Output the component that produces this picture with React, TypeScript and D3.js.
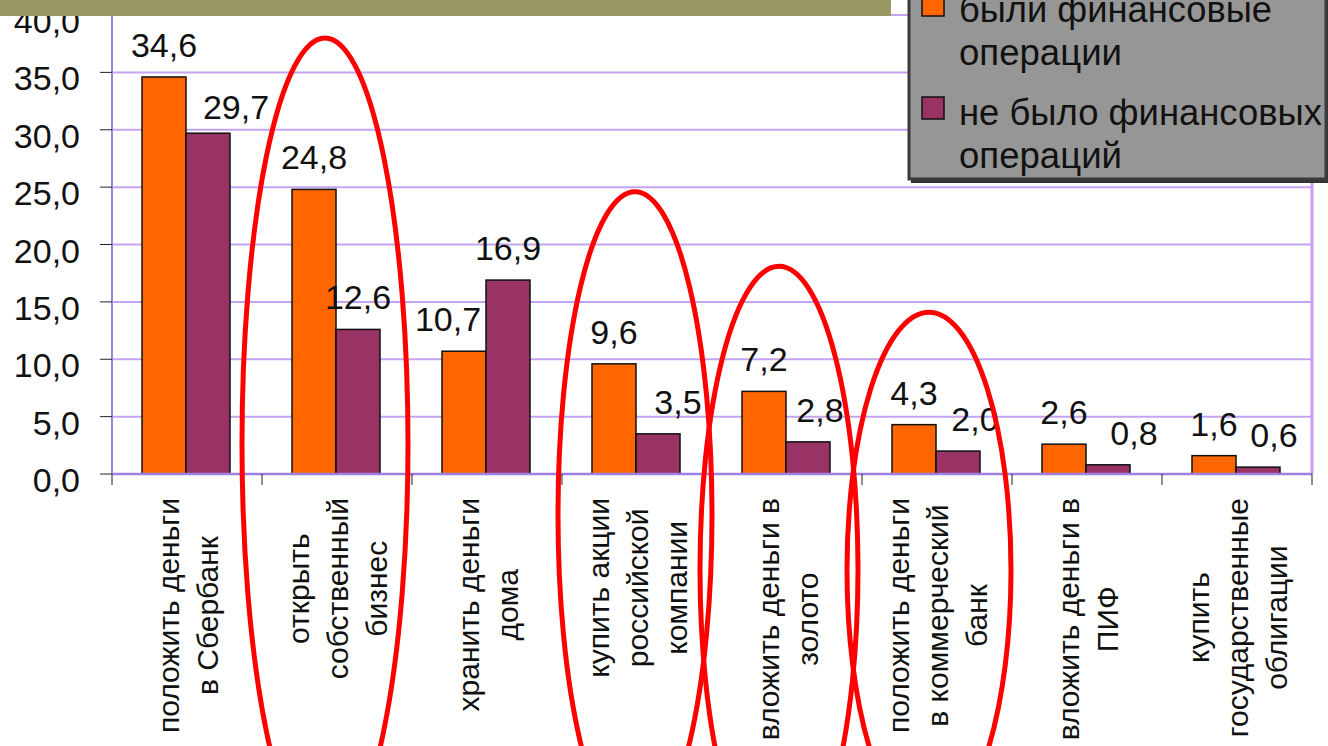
import React, { useMemo } from 'react';
import * as d3 from 'd3';

// category labels, one entry per line of the rotated label
const categoryLines: string[][] = [
  ['положить деньги', 'в Сбербанк'],
  ['открыть', 'собственный', 'бизнес'],
  ['хранить деньги', 'дома'],
  ['купить акции', 'российской', 'компании'],
  ['вложить деньги в', 'золото'],
  ['положить деньги', 'в коммерческий', 'банк'],
  ['вложить деньги в', 'ПИФ'],
  ['купить', 'государственные', 'облигации'],
];

const seriesNames = ['были финансовые операции', 'не было финансовых операций'];
const legendLines = [
  ['были финансовые', 'операции'],
  ['не было финансовых', 'операций'],
];

const withOps = [34.6, 24.8, 10.7, 9.6, 7.2, 4.3, 2.6, 1.6];
const withoutOps = [29.7, 12.6, 16.9, 3.5, 2.8, 2.0, 0.8, 0.6];

const yTicks = [0, 5, 10, 15, 20, 25, 30, 35, 40];

// manual nudges of data labels (dx, dy), as placed in the original slide
const nudgeWith = [[0, 0], [0, 0], [-16, 0], [0, 0], [0, 0], [0, 0], [0, 0], [0, 0]];
const nudgeWithout = [[28, 6], [0, 0], [0, 0], [20, 0], [12, 0], [17, 0], [26, 0], [16, 0]];

// red ovals drawn over the chart: category index, x shift, top value, radii
const highlights = [
  { cat: 1, dx: -12, top: 38.0, rx: 83, ry: 406 },
  { cat: 3, dx: -2, top: 24.6, rx: 77, ry: 323 },
  { cat: 4, dx: -8, top: 18.1, rx: 79, ry: 303 },
  { cat: 5, dx: -8, top: 14.1, rx: 82, ry: 258 },
];

const W = 1328;
const H = 746;
const colors = ['#ff6600', '#993366'];
const fmt = (v: number) => v.toFixed(1).replace('.', ',');

export default function App() {
  const margin = { top: 15, right: 16, bottom: 272, left: 112 };

  const x = d3.scaleBand<number>()
    .domain(d3.range(categoryLines.length))
    .range([margin.left, W - margin.right]);

  const inner = d3.scaleBand<number>()
    .domain([0, 1])
    .range([30, x.bandwidth() - 32]);

  const y = d3.scaleLinear()
    .domain([0, 40])
    .range([H - margin.bottom, margin.top]);

  const catFont = "30px 'Liberation Sans', Arial, sans-serif";
  const maxLens = useMemo(() => {
    const ctx = document.createElement('canvas').getContext('2d');
    if (!ctx) return categoryLines.map(() => 230);
    ctx.font = catFont;
    return categoryLines.map((lines) => d3.max(lines, (l) => ctx.measureText(l).width) || 0);
  }, []);

  const series = [withOps, withoutOps];
  const nudges = [nudgeWith, nudgeWithout];
  const y0 = y(0);

  return (
    <svg width={W} height={H} style={{ position: 'absolute', left: 0, top: 0, background: '#fff' }}
      fontFamily="'Liberation Sans', Arial, sans-serif">
      {/* grid */}
      {yTicks.filter((t) => t > 0).map((t) => (
        <line key={`g${t}`} x1={margin.left} x2={W - margin.right} y1={y(t)} y2={y(t)}
          stroke="#c4a4f0" strokeWidth={2} />
      ))}
      {/* plot right border */}
      <line x1={W - margin.right} x2={W - margin.right} y1={y(40)} y2={y0} stroke="#c49cf6" strokeWidth={3} />

      {/* bars */}
      {series.map((vals, s) => vals.map((v, i) => (
        <rect key={`b${s}-${i}`}
          x={(x(i) || 0) + (inner(s) || 0)} y={y(v)}
          width={inner.bandwidth()} height={y0 - y(v)}
          fill={colors[s]} stroke="#111" strokeWidth={1.5} />
      )))}

      {/* axes */}
      <line x1={margin.left} x2={margin.left} y1={y(40)} y2={y0} stroke="#9f7fe0" strokeWidth={2} />
      <line x1={margin.left} x2={W - margin.right} y1={y0} y2={y0} stroke="#9f7fe0" strokeWidth={2.5} />
      {yTicks.map((t) => (
        <g key={`yt${t}`}>
          <line x1={margin.left - 12} x2={margin.left} y1={y(t)} y2={y(t)} stroke="#222" strokeWidth={1} />
          <text x={80} y={y(t) + 18} textAnchor="end" fontSize={34} fill="#111">{fmt(t)}</text>
        </g>
      ))}
      {d3.range(categoryLines.length + 1).map((i) => {
        const xx = i < categoryLines.length ? (x(i) || 0) : W - margin.right;
        return <line key={`xt${i}`} x1={xx} x2={xx} y1={y0} y2={y0 + 11} stroke="#222" strokeWidth={1} />;
      })}

      {/* data labels */}
      {series.map((vals, s) => vals.map((v, i) => (
        <text key={`l${s}-${i}`}
          x={(x(i) || 0) + (inner(s) || 0) + inner.bandwidth() / 2 + nudges[s][i][0]}
          y={y(v) - 20 + nudges[s][i][1]}
          textAnchor="middle" fontSize={34} fill="#111">{fmt(v)}</text>
      )))}

      {/* category labels, rotated */}
      {categoryLines.map((lines, i) => {
        const cx = (x(i) || 0) + x.bandwidth() / 2;
        const mid = 498 + maxLens[i] / 2;
        return (
          <g key={`c${i}`} transform={`translate(${cx},0) rotate(-90)`}>
            {lines.map((l, k) => (
              <text key={k} x={-mid} y={(k - (lines.length - 1) / 2) * 39 + 11}
                textAnchor="middle" fontSize={30} fill="#111">{l}</text>
            ))}
          </g>
        );
      })}

      {/* title strip (cut off in the original) */}
      <rect x={0} y={0} width={891} height={16} fill="#999966" />

      {/* legend */}
      <g>
        <rect x={911} y={-10} width={420} height={193} fill="#333" />
        <rect x={909} y={-12} width={417} height={191} fill="#969696" stroke="#3a3a3a" strokeWidth={3} />
        {seriesNames.map((name, s) => (
          <g key={name}>
            <rect x={922} y={s === 0 ? -6 : 97} width={22} height={22} fill={colors[s]} stroke="#111" strokeWidth={1.5} />
            {legendLines[s].map((l, k) => (
              <text key={k} x={959} y={(s === 0 ? 22 : 125) + k * 43} fontSize={36} fill="#111"
                textLength={l.length > 10 ? (s === 0 ? 313 : 363) : 163} lengthAdjust="spacingAndGlyphs">{l}</text>
            ))}
          </g>
        ))}
      </g>

      {/* red highlight ovals */}
      {highlights.map((h, k) => {
        const cx = (x(h.cat) || 0) + x.bandwidth() / 2 + h.dx;
        const cy = y(h.top) + h.ry;
        return <ellipse key={`h${k}`} cx={cx} cy={cy} rx={h.rx} ry={h.ry}
          fill="none" stroke="#ff0000" strokeWidth={5} />;
      })}
    </svg>
  );
}
